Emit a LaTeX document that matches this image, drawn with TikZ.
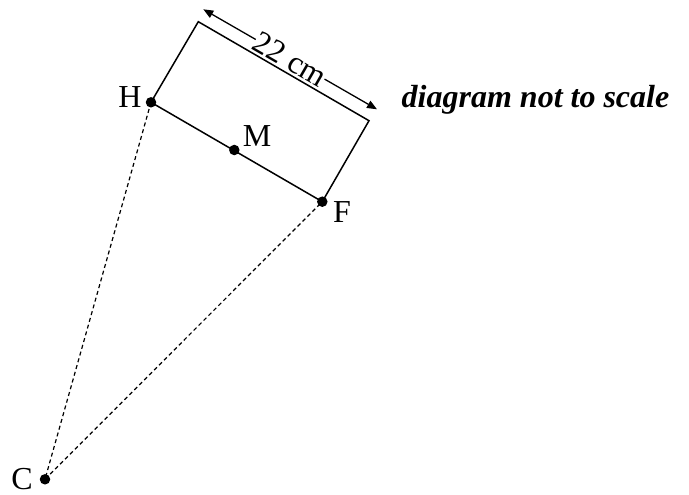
\documentclass[tikz,border=0pt]{standalone}
\usepackage{fontspec}
\setmainfont{Liberation Serif}
\usetikzlibrary{arrows.meta}
\begin{document}
\begin{tikzpicture}[x=1pt,y=-1pt,
  pt/.style={circle,fill=black,inner sep=0pt,minimum size=10.5pt},
  lbl/.style={font=\fontsize{32}{34}\selectfont,inner sep=0pt},
  edge/.style={line width=1.5pt},
  dashline/.style={line width=1.2pt,dash pattern=on 4pt off 3pt}]
\useasboundingbox (0,0) rectangle (689,495);
\coordinate (H) at (151,102.3);
\coordinate (M) at (234.3,150);
\coordinate (F) at (322.3,201.7);
\coordinate (C) at (45,479.3);
\coordinate (TL) at (198.3,21.7);
\coordinate (TR) at (369,120.7);
\coordinate (A1) at (203.3,9.3);
\coordinate (A2) at (377,109.3);
\draw[dashline] (H) -- (C) -- (F);
\draw[edge] (H) -- (TL) -- (TR) -- (F) -- cycle;
\draw[line width=1.3pt,{Triangle[length=10pt,width=8pt]}-{Triangle[length=10pt,width=8pt]}] (A1) -- node[sloped,fill=white,inner sep=2pt,lbl] (dim) {22 cm} (A2);
\node[pt] (pH) at (H) {};
\node[pt] (pM) at (M) {};
\node[pt] (pF) at (F) {};
\node[pt] (pC) at (C) {};
\node[lbl] (lH) at (130,97) {H};
\node[lbl] (lM) at (257,136) {M};
\node[lbl] (lF) at (342,212) {F};
\node[lbl] (lC) at (22,479.5) {C};
\node[lbl,font=\fontsize{32}{34}\selectfont\bfseries\itshape] (note) at (535.5,100) {diagram not to scale};
\end{tikzpicture}
\end{document}
